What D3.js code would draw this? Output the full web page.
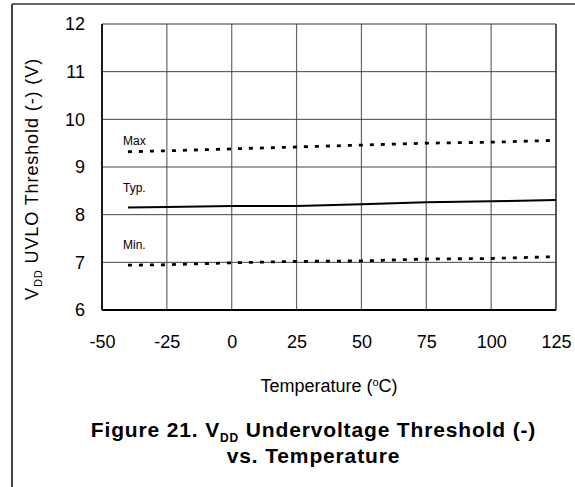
<!DOCTYPE html>
<html><head><meta charset="utf-8">
<script src="https://cdn.jsdelivr.net/npm/d3@7"></script>
<style>
html,body{margin:0;padding:0;background:#fff;}
svg{display:block;font-family:Arial,"Liberation Sans",sans-serif;}
</style></head>
<body>
<svg id="chart" width="575" height="487"></svg>
<script>
const temps = [-40, -25, 0, 25, 50, 75, 100, 125];
const maxVals = [9.32, 9.34, 9.38, 9.42, 9.46, 9.50, 9.52, 9.56];
const typVals = [8.15, 8.16, 8.18, 8.18, 8.22, 8.26, 8.28, 8.31];
const minVals = [6.94, 6.95, 6.99, 7.02, 7.03, 7.07, 7.08, 7.12];
const xTicks = [-50, -25, 0, 25, 50, 75, 100, 125];
const yTicks = [6, 7, 8, 9, 10, 11, 12];
const seriesLabels = ["Max", "Typ.", "Min."];

const svg = d3.select("#chart");
const L = 102, R = 556, T = 24, B = 310;
const x = d3.scaleLinear().domain([-50, 125]).range([L, R]);
const y = d3.scaleLinear().domain([6, 12]).range([B, T]);

// outer frame (left & top visible)
svg.append("line").attr("x1", 12).attr("x2", 12).attr("y1", 4).attr("y2", 487)
  .attr("stroke", "#444").attr("stroke-width", 2);
svg.append("line").attr("x1", 12).attr("x2", 575).attr("y1", 4).attr("y2", 4)
  .attr("stroke", "#333").attr("stroke-width", 1.5);

// grid
const g = svg.append("g");
g.selectAll(".vg").data(xTicks.slice(1, -1)).enter().append("line")
  .attr("x1", d => x(d)).attr("x2", d => x(d)).attr("y1", T).attr("y2", B)
  .attr("stroke", "#666").attr("stroke-width", 1.2);
g.selectAll(".hg").data(yTicks.slice(1, -1)).enter().append("line")
  .attr("x1", L).attr("x2", R).attr("y1", d => y(d)).attr("y2", d => y(d))
  .attr("stroke", "#444").attr("stroke-width", 1);

// plot border
svg.append("line").attr("x1", L).attr("x2", R).attr("y1", T).attr("y2", T).attr("stroke", "#333").attr("stroke-width", 1.2);
svg.append("line").attr("x1", R).attr("x2", R).attr("y1", T).attr("y2", B).attr("stroke", "#222").attr("stroke-width", 1.5);
svg.append("line").attr("x1", L).attr("x2", L).attr("y1", T).attr("y2", B).attr("stroke", "#000").attr("stroke-width", 1.8);
svg.append("line").attr("x1", L).attr("x2", R).attr("y1", B).attr("y2", B).attr("stroke", "#000").attr("stroke-width", 1.8);

// axes (labels only)
const fmt = d => String(d);
const xAxis = svg.append("g").attr("transform", `translate(0,${B})`)
  .call(d3.axisBottom(x).tickValues(xTicks).tickSize(0).tickPadding(25).tickFormat(fmt));
const yAxis = svg.append("g").attr("transform", `translate(${L},0)`)
  .call(d3.axisLeft(y).tickValues(yTicks).tickSize(0).tickPadding(17).tickFormat(fmt));
[xAxis, yAxis].forEach(a => {
  a.select(".domain").remove();
  a.selectAll("text").attr("font-size", 18).attr("fill", "#000")
    .attr("font-family", "Arial, 'Liberation Sans', sans-serif");
});

// series
const line = d3.line().x(d => x(d[0])).y(d => y(d[1]));
const mk = vals => temps.map((t, i) => [t, vals[i]]);
svg.append("path").attr("d", line(mk(maxVals))).attr("fill", "none")
  .attr("stroke", "#000").attr("stroke-width", 2.8).attr("stroke-dasharray", "4,7");
svg.append("path").attr("d", line(mk(minVals))).attr("fill", "none")
  .attr("stroke", "#000").attr("stroke-width", 2.8).attr("stroke-dasharray", "4,7");
svg.append("path").attr("d", line(mk(typVals))).attr("fill", "none")
  .attr("stroke", "#000").attr("stroke-width", 2);

// series labels
const labY = [145, 192, 249];
seriesLabels.forEach((s, i) => {
  svg.append("text").attr("x", 123).attr("y", labY[i]).attr("font-size", 12).attr("fill", "#000").text(s);
});

// x title
svg.append("text").attr("x", (L + R) / 2).attr("y", 392).attr("text-anchor", "middle")
  .attr("font-size", 18).attr("fill", "#000")
  .html('Temperature (<tspan baseline-shift="super" font-size="11">o</tspan>C)');

// y title
const yt = svg.append("text").attr("transform", "translate(38,300) rotate(-90)")
  .attr("font-size", 18).attr("fill", "#000").attr("letter-spacing", 0.9);
yt.append("tspan").text("V");
yt.append("tspan").attr("font-size", 11).attr("dy", 4).text("DD");
yt.append("tspan").attr("dy", -4).text(" UVLO Threshold (-) (V)");

// caption
const capX = 313.5;
const c1 = svg.append("text").attr("x", capX).attr("y", 437).attr("font-size", 21)
  .attr("text-anchor", "middle")
  .attr("font-weight", "bold").attr("fill", "#000").attr("letter-spacing", 0.85);
c1.append("tspan").text("Figure 21. V");
c1.append("tspan").attr("font-size", 12).attr("dy", 5).text("DD");
c1.append("tspan").attr("dy", -5).text(" Undervoltage Threshold (-)");
svg.append("text").attr("x", capX).attr("y", 463).attr("font-size", 21)
  .attr("text-anchor", "middle")
  .attr("font-weight", "bold").attr("fill", "#000").attr("letter-spacing", 0.85)
  .text("vs. Temperature");
</script>
</body></html>
